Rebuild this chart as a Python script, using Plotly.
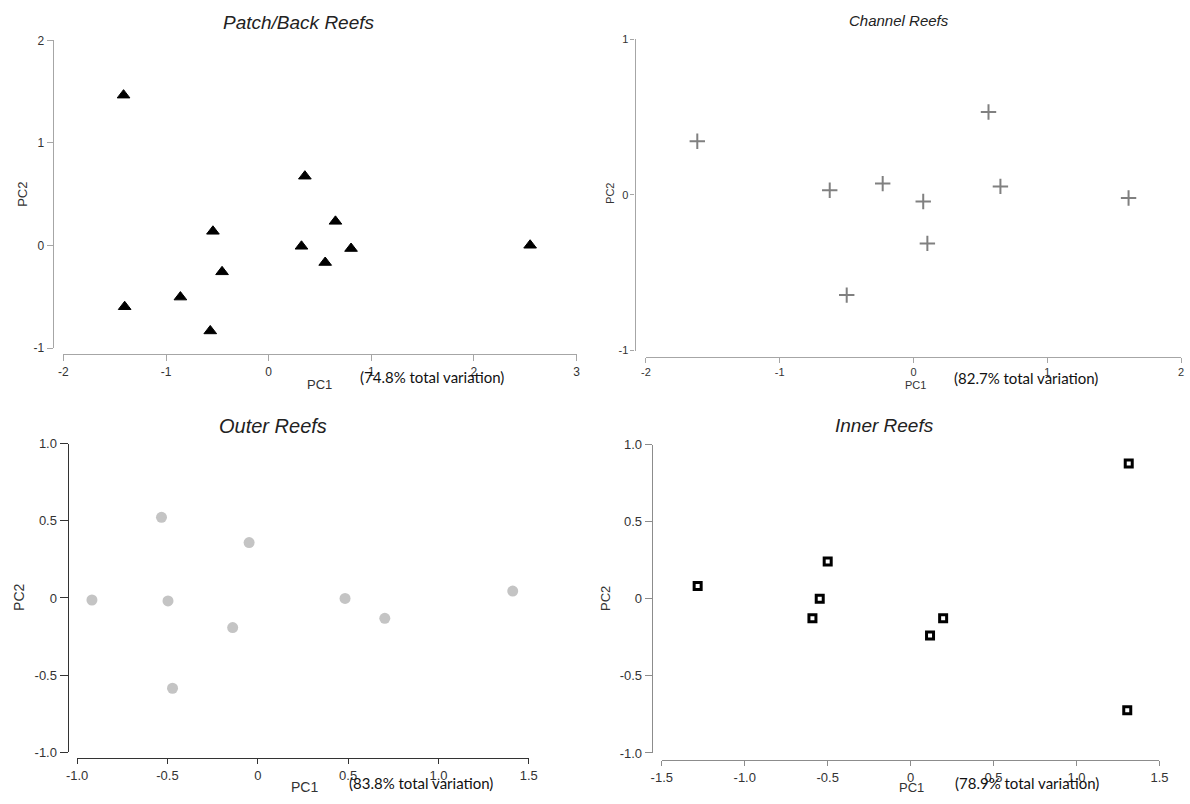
import plotly.graph_objects as go

W, H = 1190, 804

# ---------------- data ----------------
patch_pc1 = [-1.414, 0.353, 0.651, -0.543, 0.320, 0.803, 2.548, 0.551, -0.454, -0.860, -1.403, -0.569]
patch_pc2 = [1.466, 0.676, 0.236, 0.139, -0.007, -0.029, 0.003, -0.165, -0.256, -0.502, -0.596, -0.832]

channel_pc1 = [-1.616, 0.561, -0.626, -0.230, 0.073, 0.650, 1.608, 0.104, -0.499]
channel_pc2 = [0.344, 0.532, 0.029, 0.072, -0.043, 0.054, -0.020, -0.312, -0.644]

outer_pc1 = [-0.918, -0.533, -0.497, -0.048, -0.139, -0.472, 0.483, 0.703, 1.411]
outer_pc2 = [-0.013, 0.523, -0.019, 0.359, -0.192, -0.585, -0.003, -0.132, 0.045]

inner_pc1 = [-1.284, -0.500, -0.548, -0.592, 0.196, 0.117, 1.315, 1.306]
inner_pc2 = [0.084, 0.243, 0.000, -0.126, -0.126, -0.238, 0.878, -0.723]

titles = ["Patch/Back Reefs", "Channel Reefs", "Outer Reefs", "Inner Reefs"]
variation = ["(74.8% total variation)", "(82.7% total variation)",
             "(83.8% total variation)", "(78.9% total variation)"]

patch_xticks = [-2, -1, 0, 1, 2, 3]
patch_xlabels = ["-2", "-1", "0", "1", "2", "3"]
patch_yticks = [-1, 0, 1, 2]
patch_ylabels = ["-1", "0", "1", "2"]

channel_xticks = [-2, -1, 0, 1, 2]
channel_xlabels = ["-2", "-1", "0", "1", "2"]
channel_yticks = [-1, 0, 1]
channel_ylabels = ["-1", "0", "1"]

outer_xticks = [-1.0, -0.5, 0, 0.5, 1.0, 1.5]
outer_xlabels = ["-1.0", "-0.5", "0", "0.5", "1.0", "1.5"]
outer_yticks = [-1.0, -0.5, 0, 0.5, 1.0]
outer_ylabels = ["-1.0", "-0.5", "0", "0.5", "1.0"]

inner_xticks = [-1.5, -1.0, -0.5, 0, 0.5, 1.0, 1.5]
inner_xlabels = ["-1.5", "-1.0", "-0.5", "0", "0.5", "1.0", "1.5"]
inner_yticks = [-1.0, -0.5, 0, 0.5, 1.0]
inner_ylabels = ["-1.0", "-0.5", "0", "0.5", "1.0"]

# layout positions below are measured in reference-image pixels; these
# helpers convert them to paper fractions (with a small calibration).
SX, BX = 0.983, 9.8
SY, BY = 0.986, 5.5


def fx(px):
    t = (px - BX) / SX
    return min(1.0, max(0.0, t / W))


def fy(py):
    t = (py - BY) / SY
    return min(1.0, max(0.0, 1 - t / H))


ARIAL = "Liberation Sans, Arial, sans-serif"
CAL = "Lato, Carlito, sans-serif"

panels = [
    dict(xs=patch_pc1, ys=patch_pc2, xr=[-2, 3], yr=[-1, 2],
         xpx=[62.2, 575.2], ypx=[348.3, 39.0], xline=354.3, yline=51.5,
         xt=patch_xticks, xl=patch_xlabels, yt=patch_yticks, yl=patch_ylabels,
         axcol="#a6a6a6", tickfont=12, lblfont=13, titlefont=19,
         xticklen=6, yticklen=6,
         title_pos=(298, 21), pc1=(318, 385), pc2=(21, 194), var_pos=(431, 377),
         marker=dict(symbol="triangle-up", size=11, color="black",
                     line=dict(color="black", width=1))),
    dict(xs=channel_pc1, ys=channel_pc2, xr=[-2, 2], yr=[-1, 1],
         xpx=[644.6, 1184.7], ypx=[350.7, 37.7], xline=356.7, yline=633.3,
         xt=channel_xticks, xl=channel_xlabels, yt=channel_yticks, yl=channel_ylabels,
         axcol="#a6a6a6", tickfont=11, lblfont=11, titlefont=15,
         xticklen=5, yticklen=4,
         title_pos=(898, 19), pc1=(914, 385), pc2=(608, 193), var_pos=(1025, 378),
         marker=dict(symbol="cross-thin", size=11, color="#808080",
                     line=dict(color="#808080", width=2))),
    dict(xs=outer_pc1, ys=outer_pc2, xr=[-1, 1.5], yr=[-1, 1],
         xpx=[75.9, 527.5], ypx=[754.3, 444.3], xline=760.0, yline=66.5,
         xt=outer_xticks, xl=outer_xlabels, yt=outer_yticks, yl=outer_ylabels,
         axcol="#333333", tickfont=13, lblfont=14, titlefont=20,
         xticklen=5, yticklen=8,
         title_pos=(272, 426), pc1=(303, 789), pc2=(17, 599), var_pos=(420, 785),
         marker=dict(symbol="circle", size=11, color="#c4c4c4", line=dict(width=0))),
    dict(xs=inner_pc1, ys=inner_pc2, xr=[-1.5, 1.5], yr=[-1, 1],
         xpx=[660.5, 1158.0], ypx=[755.0, 445.3], xline=762.0, yline=650.5,
         xt=inner_xticks, xl=inner_xlabels, yt=inner_yticks, yl=inner_ylabels,
         axcol="#8c8c8c", tickfont=13, lblfont=13, titlefont=19,
         xticklen=5, yticklen=7,
         title_pos=(883, 426), pc1=(910, 790), pc2=(604, 600), var_pos=(1026, 785),
         marker=dict(symbol="square-open", size=7, color="black",
                     line=dict(color="black", width=3))),
]

fig = go.Figure()
layout = dict(
    width=W, height=H, margin=dict(l=0, r=0, t=0, b=0),
    paper_bgcolor="white", plot_bgcolor="white", showlegend=False,
    annotations=[],
)

for i, p in enumerate(panels, start=1):
    xa = "xaxis" if i == 1 else f"xaxis{i}"
    ya = "yaxis" if i == 1 else f"yaxis{i}"
    xref = "x" if i == 1 else f"x{i}"
    yref = "y" if i == 1 else f"y{i}"

    fig.add_trace(go.Scatter(
        x=p["xs"], y=p["ys"], mode="markers", xaxis=xref, yaxis=yref,
        marker=p["marker"], cliponaxis=False, hoverinfo="x+y",
    ))

    layout[xa] = dict(
        domain=[fx(p["xpx"][0]), fx(p["xpx"][1])], range=p["xr"], autorange=False,
        anchor="free", position=fy(p["xline"]),
        showline=True, linecolor=p["axcol"], linewidth=1.3,
        ticks="outside", ticklen=p["xticklen"], tickcolor=p["axcol"], tickwidth=1,
        tickvals=p["xt"], ticktext=p["xl"],
        tickfont=dict(family=ARIAL, size=p["tickfont"], color="#333333"),
        showgrid=False, zeroline=False,
    )
    layout[ya] = dict(
        domain=[fy(p["ypx"][0]), fy(p["ypx"][1])], range=p["yr"], autorange=False,
        anchor="free", position=fx(p["yline"]),
        showline=True, linecolor=p["axcol"], linewidth=1.3,
        ticks="outside", ticklen=p["yticklen"], tickcolor=p["axcol"], tickwidth=1,
        tickvals=p["yt"], ticktext=p["yl"],
        tickfont=dict(family=ARIAL, size=p["tickfont"], color="#333333"),
        showgrid=False, zeroline=False,
    )

    layout["annotations"].append(dict(
        text=f"<i>{titles[i-1]}</i>", xref="paper", yref="paper",
        x=fx(p["title_pos"][0]), y=fy(p["title_pos"][1]),
        xanchor="center", yanchor="middle", showarrow=False,
        font=dict(family=ARIAL, size=p["titlefont"], color="#222222"),
    ))
    layout["annotations"].append(dict(
        text="PC1", xref="paper", yref="paper",
        x=fx(p["pc1"][0]), y=fy(p["pc1"][1]),
        xanchor="center", yanchor="middle", showarrow=False,
        font=dict(family=ARIAL, size=p["lblfont"], color="#333333"),
    ))
    layout["annotations"].append(dict(
        text="PC2", xref="paper", yref="paper",
        x=fx(p["pc2"][0]), y=fy(p["pc2"][1]),
        xanchor="center", yanchor="middle", showarrow=False, textangle=-90,
        font=dict(family=ARIAL, size=p["lblfont"], color="#333333"),
    ))
    layout["annotations"].append(dict(
        text=variation[i-1], xref="paper", yref="paper",
        x=fx(p["var_pos"][0]), y=fy(p["var_pos"][1]),
        xanchor="center", yanchor="middle", showarrow=False,
        font=dict(family=CAL, size=15, color="#111111"),
    ))

fig.update_layout(**layout)
fig.write_html("out.html")
